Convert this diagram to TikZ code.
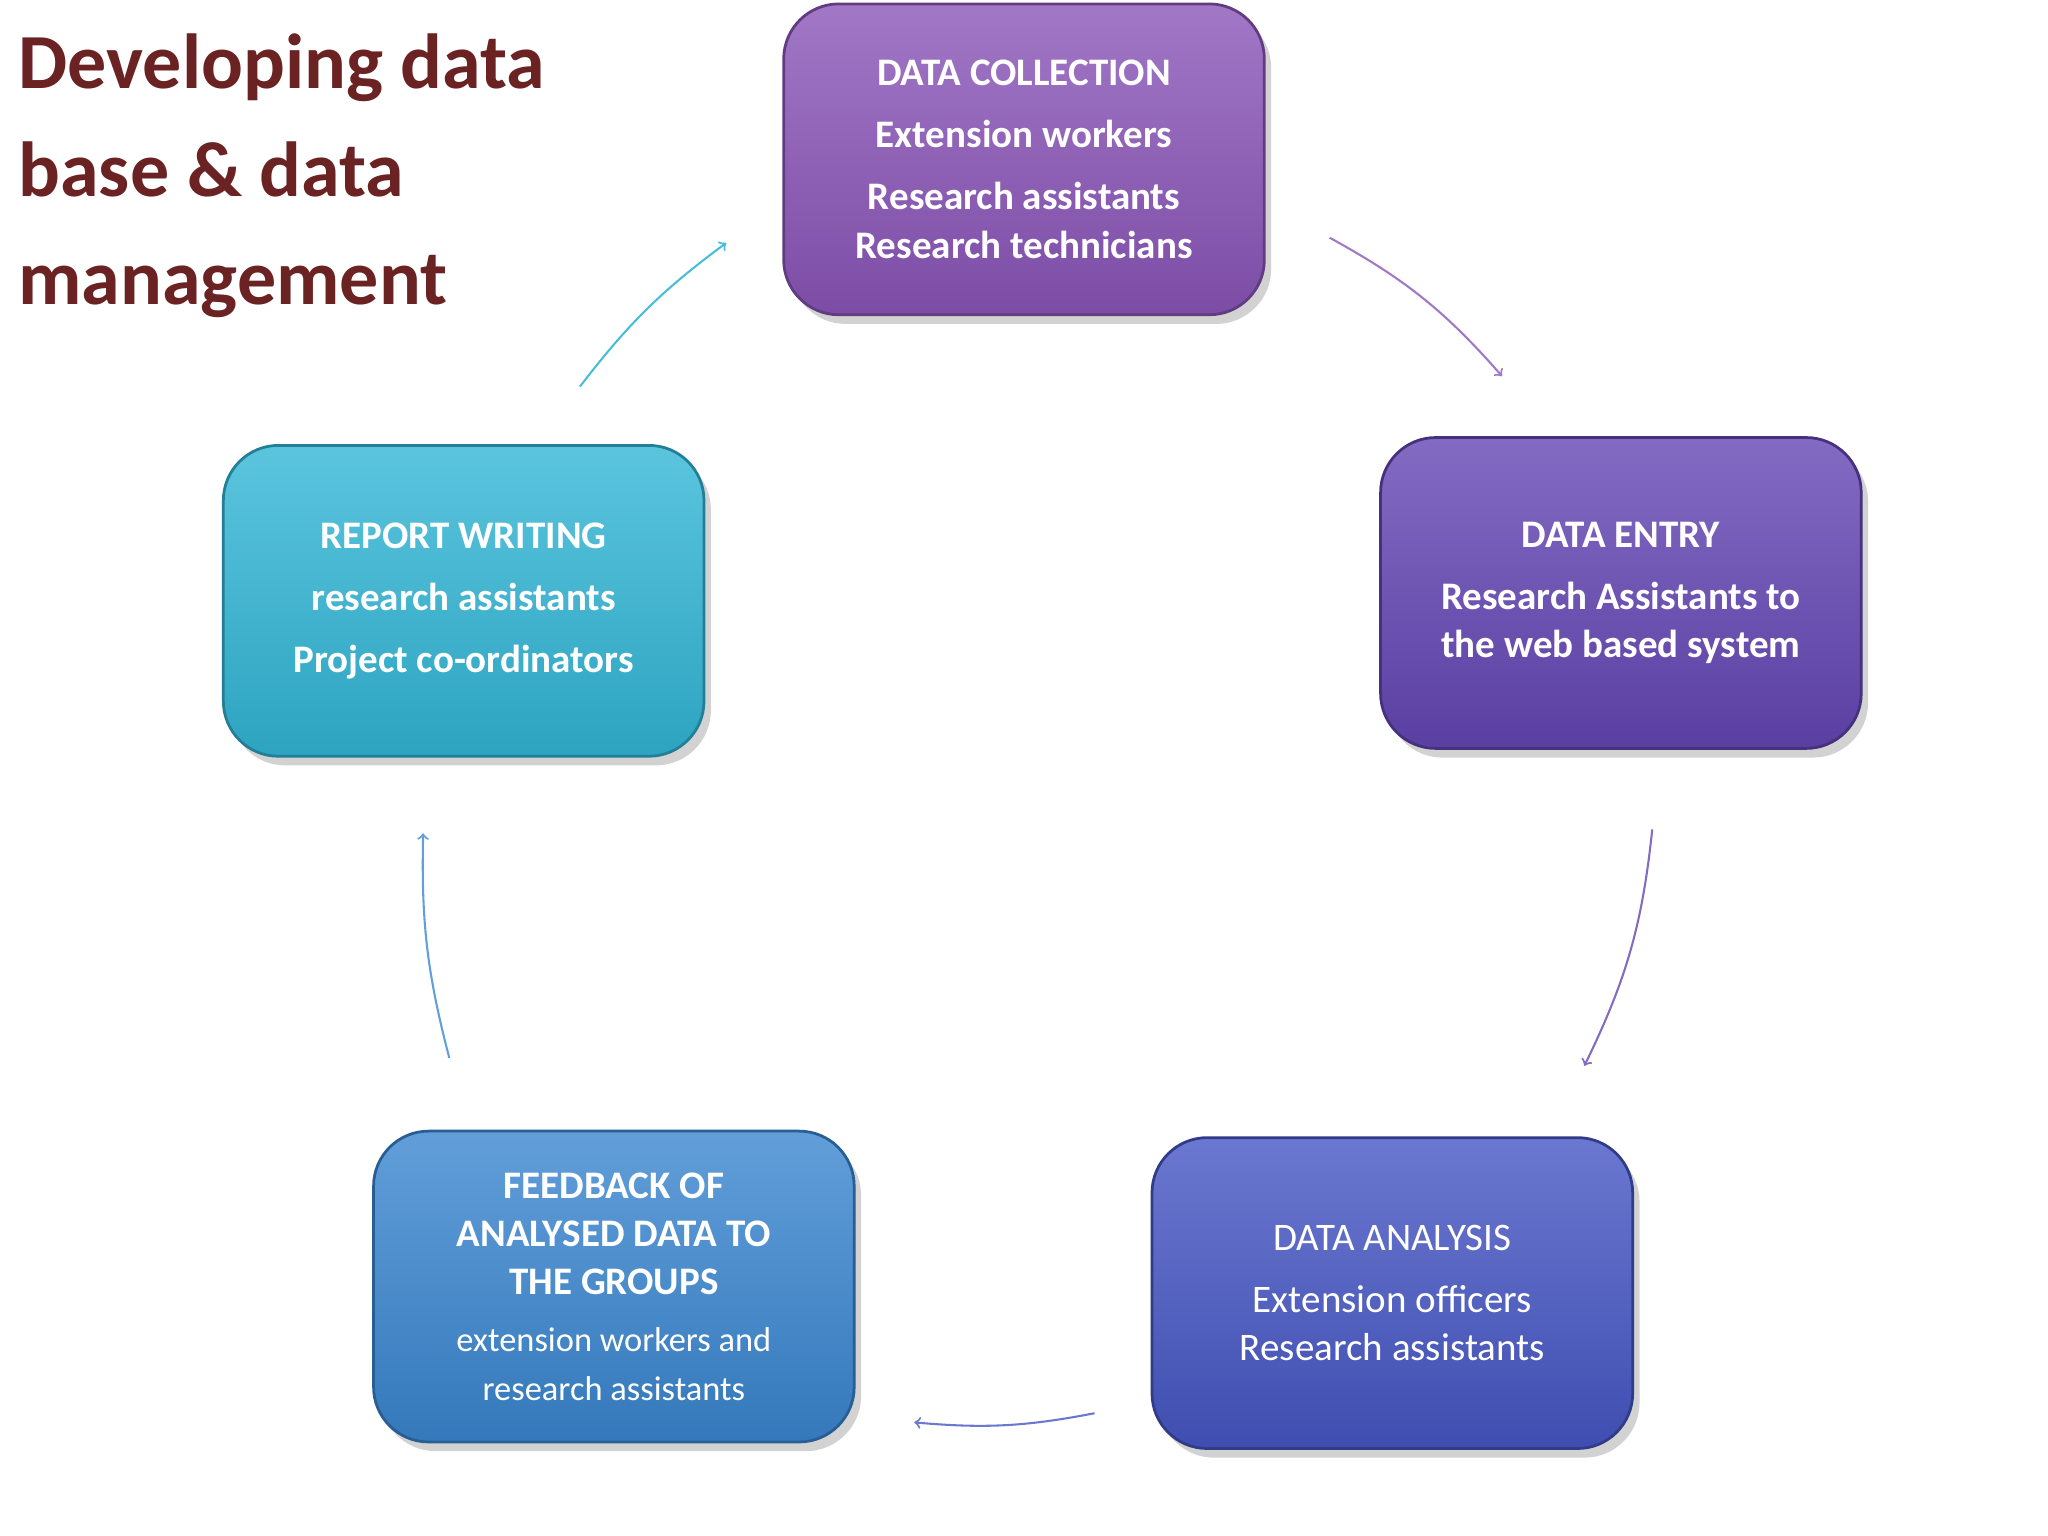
\documentclass[tikz,border=0pt]{standalone}
\usepackage{fontspec}
\setmainfont{Carlito}
\usetikzlibrary{shadows}
\definecolor{titlec}{HTML}{6B2222}
\definecolor{c1}{HTML}{8A55B8}
\definecolor{c2}{HTML}{6446B4}
\definecolor{c3}{HTML}{4656C4}
\definecolor{c4}{HTML}{3A86D0}
\definecolor{c5}{HTML}{32B6D6}
\begin{document}
\begin{tikzpicture}[x=0.02cm,y=-0.02cm,
  box/.style={draw=#1!70!black,line width=1.2pt,rounded corners=24pt,top color=#1!80!white,bottom color=#1!90!black,
    minimum width=368*0.02cm,minimum height=238*0.02cm,text=white,align=center,font=\fontsize{17}{21}\selectfont\bfseries,
    drop shadow={opacity=0.35,shadow xshift=3pt,shadow yshift=-4pt}},
  arr/.style={->,line width=0.9pt,shorten >=0pt}]
\useasboundingbox (0,0) rectangle (1568,1176);
\fill[white] (0,0) rectangle (1568,1176);
\node[anchor=north west,text=titlec,align=left,font=\fontsize{34}{47}\selectfont\bfseries] (title) at (8,20)
 {Developing data\\base \& data\\management};
\node[box=c1] (b1) at (784,122) {DATA COLLECTION\\[6pt]Extension workers\\[6pt]Research assistants\\Research technicians};
\node[box=c2] (b2) at (1241,454) {DATA ENTRY\\[6pt]Research Assistants to\\the web based system};
\node[box=c3,font=\fontsize{17}{21}\selectfont] (b3) at (1066,990) {DATA ANALYSIS\\[6pt]Extension officers\\Research assistants};
\node[box=c4] (b4) at (470,985) {FEEDBACK OF\\ANALYSED DATA TO\\THE GROUPS\\[4pt]{\mdseries\fontsize{15}{19}\selectfont extension workers and}\\{\mdseries\fontsize{15}{19}\selectfont research assistants}};
\node[box=c5] (b5) at (355,460) {REPORT WRITING\\[6pt]research assistants\\[6pt]Project co-ordinators};
\coordinate (a1s) at (1018,182); \coordinate (a1e) at (1150,288);
\coordinate (a2s) at (1265,635); \coordinate (a2e) at (1213,816);
\coordinate (a3s) at (838,1082); \coordinate (a3e) at (700,1089);
\coordinate (a4s) at (344,810); \coordinate (a4e) at (324,638);
\coordinate (a5s) at (444,296); \coordinate (a5e) at (556,186);
\draw[arr,c1!80] (a1s) to[bend left=10] (a1e);
\draw[arr,c2!80] (a2s) to[bend left=10] (a2e);
\draw[arr,c3!80] (a3s) to[bend left=8] (a3e);
\draw[arr,c4!80] (a4s) to[bend left=8] (a4e);
\draw[arr,c5!90] (a5s) to[bend left=8] (a5e);
\end{tikzpicture}
\end{document}
